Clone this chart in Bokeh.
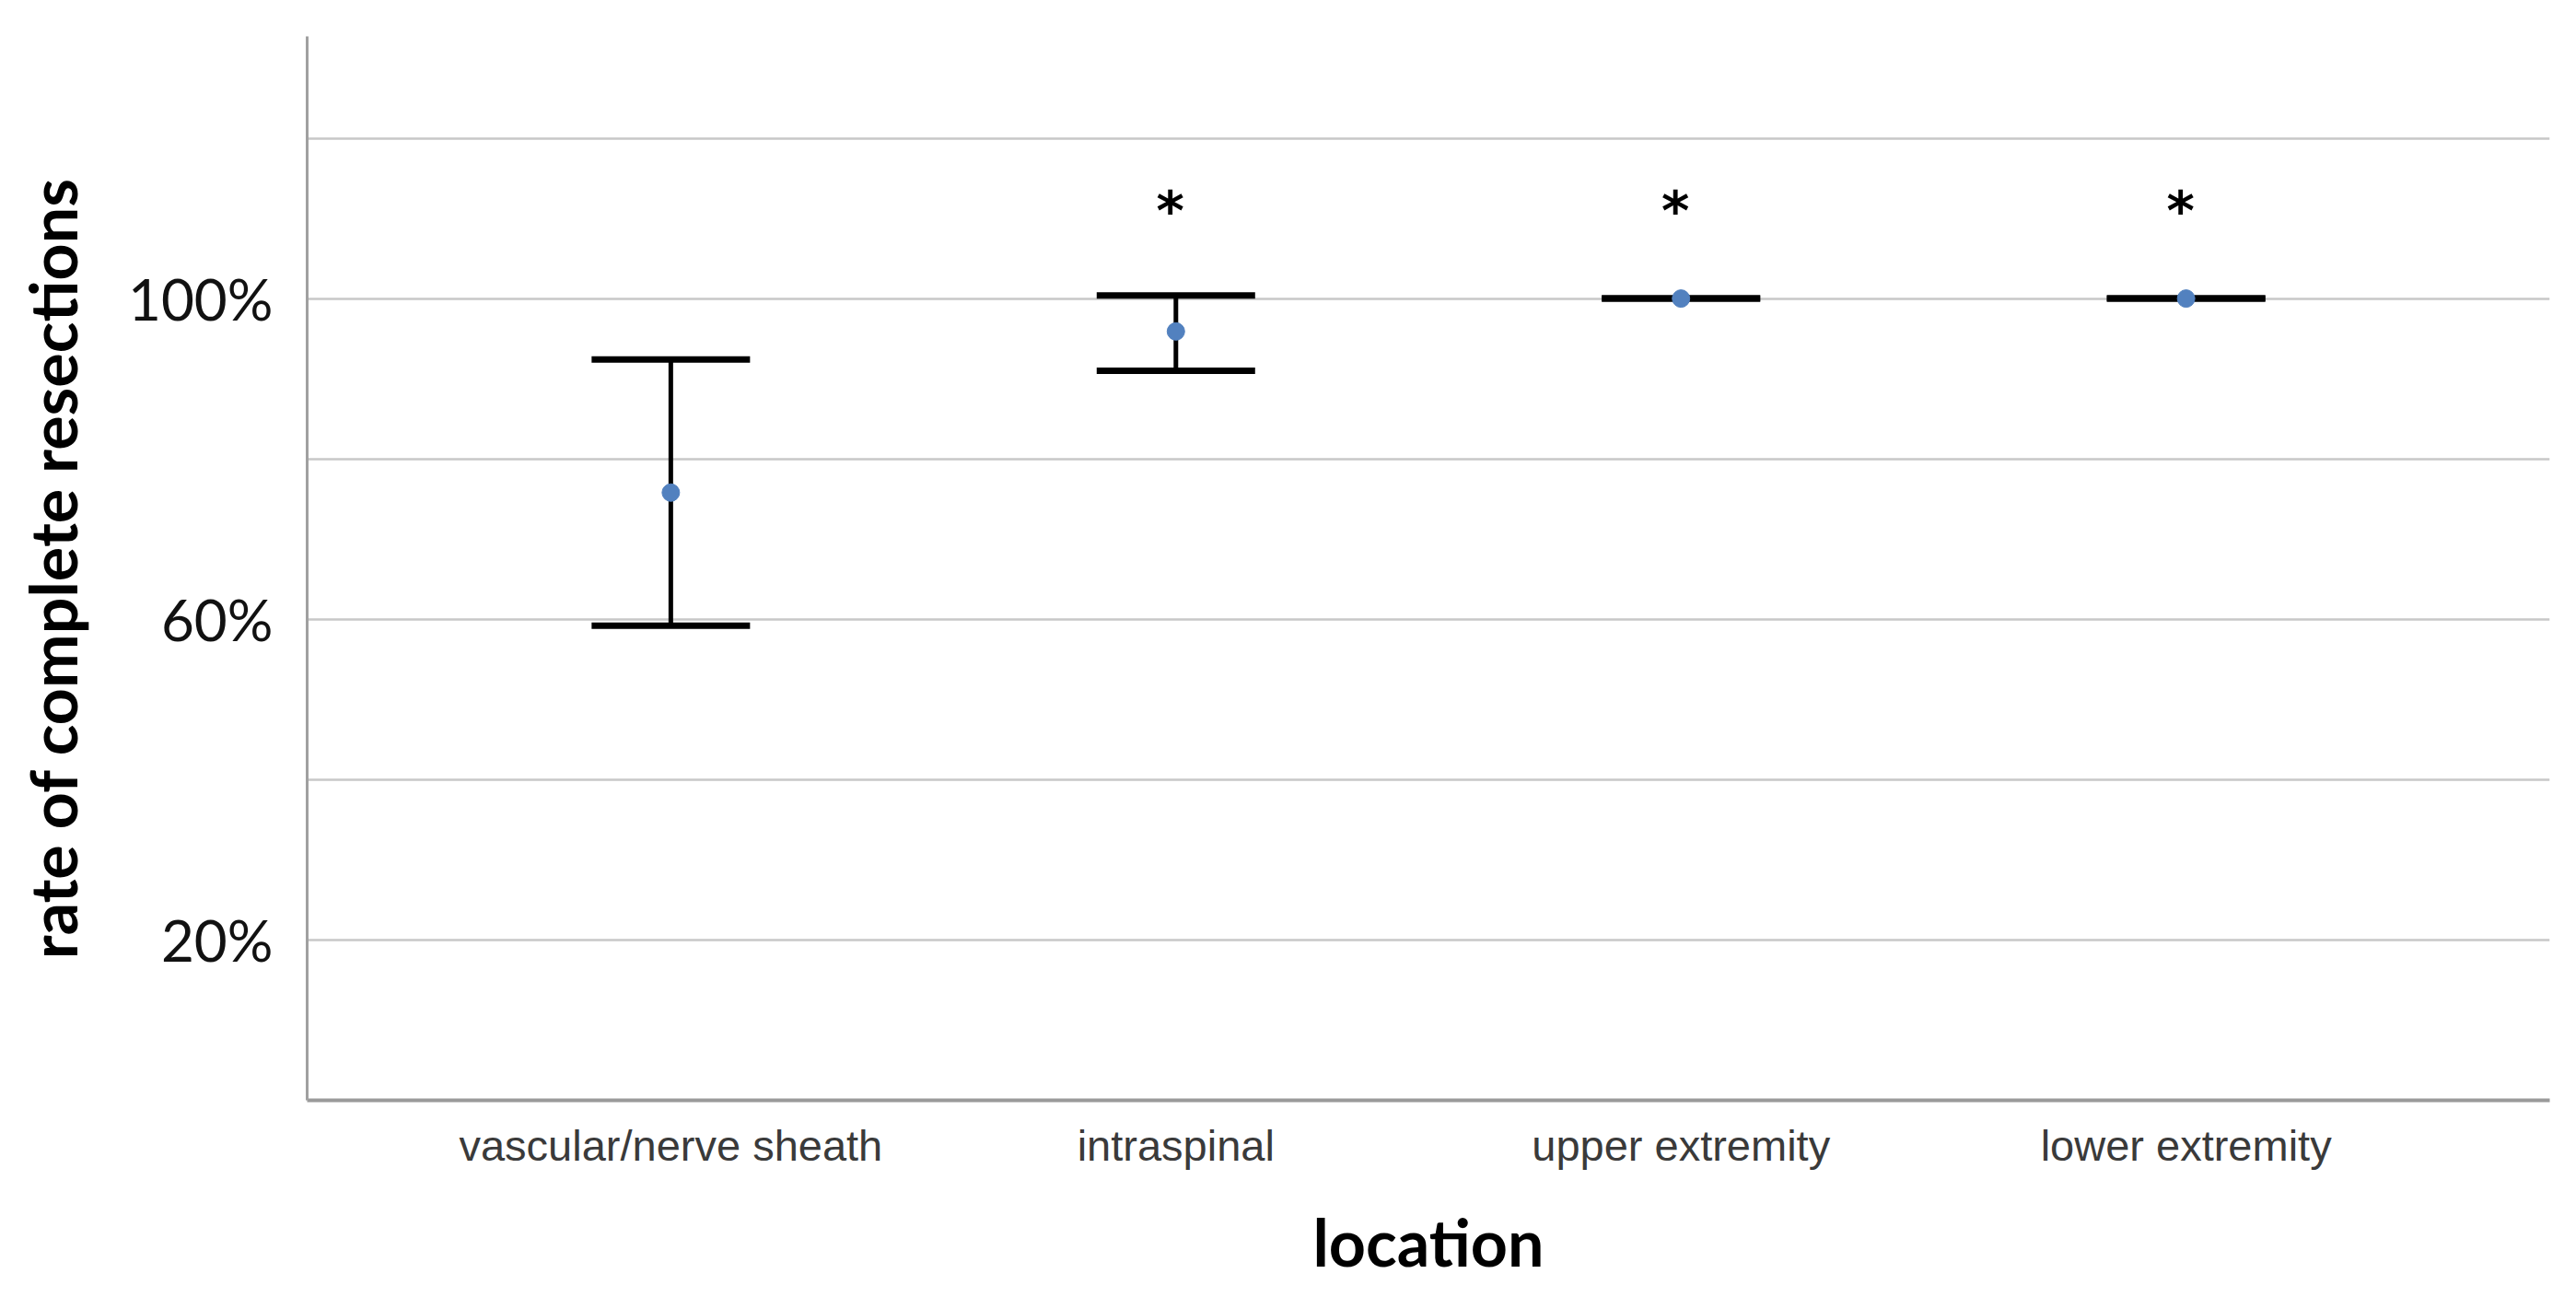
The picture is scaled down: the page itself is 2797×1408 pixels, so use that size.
from bokeh.plotting import figure
from bokeh.models import (FactorRange, Range1d, FixedTicker, Whisker, TeeHead,
                          ColumnDataSource, CustomJSTickFormatter)
from bokeh.core.properties import value
from bokeh.embed import file_html
from bokeh.resources import INLINE

# ---- data ----
categories = ["vascular/nerve sheath", "intraspinal", "upper extremity", "lower extremity"]
rate = [75.8, 95.9, 100.0, 100.0]          # % complete resections
ci_lower = [59.2, 91.0, 100.0, 100.0]
ci_upper = [92.4, 100.4, 100.0, 100.0]
significance = ["", "*", "*", "*"]
marker_level = [110.9, 110.9, 110.9, 110.9]
y_tick_values = [20, 60, 100]
y_grid_values = [20, 40, 60, 80, 100, 120]
y_title = "rate of complete resections"
x_title = "location"

src = ColumnDataSource(dict(cat=categories, rate=rate, lo=ci_lower, hi=ci_upper))
sig_src = ColumnDataSource(dict(cat=categories, txt=significance, y=marker_level))

p = figure(
    width=2781, height=1392,
    x_range=FactorRange(factors=categories, range_padding=0.22, range_padding_units="absolute"),
    y_range=Range1d(0, 132.7),
    output_backend="svg", toolbar_location=None,
    min_border_left=333, min_border_right=13, min_border_top=39, min_border_bottom=197,
)
p.outline_line_color = None
p.background_fill_color = "white"

# grid
p.xgrid.grid_line_color = None
p.ygrid.ticker = FixedTicker(ticks=y_grid_values)
p.ygrid.grid_line_color = "#c8c8c8"
p.ygrid.grid_line_width = 2.5

# y axis
p.yaxis.ticker = FixedTicker(ticks=y_tick_values)
p.yaxis.formatter = CustomJSTickFormatter(code="return tick.toFixed(0) + '%';")
p.yaxis.major_label_text_font = "Lato"
p.yaxis.major_label_text_font_size = "62px"
p.yaxis.major_label_text_color = "#111111"
p.yaxis.major_label_standoff = 37
p.yaxis.major_tick_line_color = None
p.yaxis.minor_tick_line_color = None
p.yaxis.major_tick_out = 0
p.yaxis.major_tick_in = 0
p.yaxis.axis_line_color = "#a0a0a0"
p.yaxis.axis_line_width = 3
p.yaxis.axis_label = y_title
p.yaxis.axis_label_text_font = "Lato"
p.yaxis.axis_label_text_font_style = "bold"
p.yaxis.axis_label_text_font_size = "70px"
p.yaxis.axis_label_text_color = "#000000"
p.yaxis.axis_label_standoff = 37

# x axis
p.xaxis.major_label_text_font = "Liberation Sans"
p.xaxis.major_label_text_font_size = "47px"
p.xaxis.major_label_text_color = "#3a3a3a"
p.xaxis.major_label_standoff = 22
p.xaxis.major_tick_line_color = None
p.xaxis.major_tick_out = 0
p.xaxis.major_tick_in = 0
p.xaxis.axis_line_color = "#9a9a9a"
p.xaxis.axis_line_width = 4
p.xaxis.axis_label = x_title
p.xaxis.axis_label_text_font = "Lato"
p.xaxis.axis_label_text_font_style = "bold"
p.xaxis.axis_label_text_font_size = "70px"
p.xaxis.axis_label_text_color = "#000000"
p.xaxis.axis_label_standoff = 33

# points
p.scatter(x="cat", y="rate", source=src, size=19, fill_color="#5281bf", line_color="#5281bf")

# error bars
w = Whisker(base="cat", upper="hi", lower="lo", source=src,
            line_color="black", line_width=5,
            upper_head=TeeHead(size=172, line_color="black", line_width=7),
            lower_head=TeeHead(size=172, line_color="black", line_width=7))
p.add_layout(w)

# significance markers
p.text(x="cat", y="y", text="txt", source=sig_src,
       text_font=value("DejaVu Sans"), text_font_style="bold", text_font_size="58px",
       text_align="center", text_baseline="middle", text_color="black", x_offset=-6)

open("out.html", "w").write(file_html(p, INLINE))
